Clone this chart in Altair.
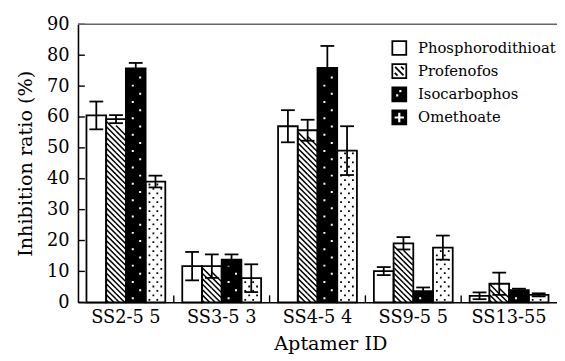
import altair as alt
import pandas as pd

# ---------------- data ----------------
groups = ["SS2-5 5", "SS3-5 3", "SS4-5 4", "SS9-5 5", "SS13-55"]
series = ["Phosphorodithioat", "Profenofos", "Isocarbophos", "Omethoate"]

phospho = [60.5, 11.7, 57.0, 10.1, 2.1]
phospho_err = [4.5, 4.6, 5.2, 1.3, 1.1]
profenofos = [59.3, 11.7, 55.7, 19.1, 6.0]
profenofos_err = [1.3, 3.8, 3.4, 2.0, 3.6]
isocarbophos = [75.7, 13.8, 75.9, 3.6, 3.9]
isocarbophos_err = [1.8, 1.7, 7.1, 1.2, 0.5]
omethoate = [39.1, 7.8, 49.1, 17.7, 2.4]
omethoate_err = [1.9, 4.5, 7.9, 3.9, 0.5]

y_ticks = [0, 10, 20, 30, 40, 50, 60, 70, 80, 90]

# ---------------- layout / style ----------------
W, H = 486, 282
YMAX = 90
ppu = H / YMAX
SERIF = "DejaVu Serif"

values = {series[0]: phospho, series[1]: profenofos, series[2]: isocarbophos, series[3]: omethoate}
errors = {series[0]: phospho_err, series[1]: profenofos_err, series[2]: isocarbophos_err, series[3]: omethoate_err}

rows = []
for s in series:
    for g, v, e in zip(groups, values[s], errors[s]):
        rows.append({"group": g, "series": s, "value": v, "lo": v - e, "hi": v + e})
df = pd.DataFrame(rows)

# ---------------- pattern decorations, derived from the bar values ----------------
def centers(v, start_px, period_px, top_margin_px):
    out = []
    c = start_px
    while c <= v * ppu - top_margin_px:
        out.append(c / ppu)
        c += period_px
    return out

def pattern_df(vals, s, start, period, margin):
    r = []
    for g, v in zip(groups, vals):
        for c in centers(v, start, period, margin):
            r.append({"group": g, "series": s, "y": c})
    return pd.DataFrame(r, columns=["group", "series", "y"])

hatch_df = pattern_df(profenofos, series[1], -14.0, 5.5, 5.3)
isoA_df = pattern_df(isocarbophos, series[2], 4.0, 16.6, 3.0)
isoB_df = pattern_df(isocarbophos, series[2], 12.3, 16.6, 3.0)
omE_df = pattern_df(omethoate, series[3], 2.5, 9.0, 2.0)
omO_df = pattern_df(omethoate, series[3], 7.0, 9.0, 2.0)

# symbol paths in pixel units (size=4 -> scale 1)
HATCH_PATH = "M-9.5,-4.75L0,4.75M0,-0.75L9.5,8.75"
ISO_A_PATH = "M-4,-1h2v2h-2Z"
ISO_B_PATH = "M3.5,-1h2v2h-2Z"
OM_E_PATH = "M-7,-0.9h1.8v1.8h-1.8ZM1,-0.9h1.8v1.8h-1.8Z"
OM_O_PATH = "M-3,-0.9h1.8v1.8h-1.8ZM5,-0.9h1.8v1.8h-1.8Z"

x_scale = alt.Scale(domain=groups, paddingInner=0, paddingOuter=0)
xo_scale = alt.Scale(domain=series, paddingInner=0, paddingOuter=0.43)
y_scale = alt.Scale(domain=[0, YMAX], nice=False, zero=True)

x_axis = alt.Axis(
    title="Aptamer ID", labelAngle=0, ticks=False, tickSize=0, domain=True,
    domainColor="black", domainWidth=1.6, labelFont=SERIF, labelFontSize=18,
    labelColor="black", labelPadding=7, titleFont=SERIF, titleFontSize=19.5,
    titleFontWeight="normal", titleColor="black", titlePadding=8, titleX=256,
    grid=False,
)
y_axis = alt.Axis(
    title="Inhibition ratio (%)", values=y_ticks, ticks=False, tickSize=0,
    domain=True, domainColor="black", domainWidth=1.6, labelFont=SERIF,
    labelFontSize=18, labelColor="black", labelPadding=9, titleFont=SERIF,
    titleFontSize=19.5, titleFontWeight="normal", titleColor="black",
    titlePadding=11, grid=False,
)

def X(**kw):
    return alt.X("group:N", scale=x_scale, axis=x_axis, **kw)

def Y(field):
    return alt.Y(field, scale=y_scale, axis=y_axis)

xo = alt.XOffset("series:N", scale=xo_scale)

base = alt.Chart(df)

bars_fill = base.mark_bar(strokeWidth=0).encode(
    x=X(), xOffset=xo, y=Y("value:Q"),
    fill=alt.condition(alt.datum.series == "Isocarbophos", alt.value("black"), alt.value("white")),
)

def pat_layer(data, path, color, filled, sw=0):
    kw = dict(shape=path, size=4, opacity=1, clip=True, filled=filled)
    if filled:
        kw.update(fill=color, strokeWidth=0)
    else:
        kw.update(stroke=color, strokeWidth=sw)
    return alt.Chart(data).mark_point(**kw).encode(x=X(), xOffset=xo, y=Y("y:Q"))

hatch = pat_layer(hatch_df, HATCH_PATH, "black", False, 1.5)
isoA = pat_layer(isoA_df, ISO_A_PATH, "white", True)
isoB = pat_layer(isoB_df, ISO_B_PATH, "white", True)
omE = pat_layer(omE_df, OM_E_PATH, "black", True)
omO = pat_layer(omO_df, OM_O_PATH, "black", True)

bars_outline = base.mark_bar(fill="transparent", stroke="black", strokeWidth=1.8).encode(
    x=X(), xOffset=xo, y=Y("value:Q")
)

err_rule = base.mark_rule(color="black", strokeWidth=1.8).encode(
    x=X(), xOffset=xo, y=Y("lo:Q"), y2="hi:Q"
)
cap_hi = base.mark_tick(color="black", size=14, thickness=1.8, opacity=1).encode(
    x=X(), xOffset=xo, y=Y("hi:Q")
)
cap_lo = base.mark_tick(color="black", size=14, thickness=1.8, opacity=1).encode(
    x=X(), xOffset=xo, y=Y("lo:Q")
)

ytick_rules = alt.Chart(pd.DataFrame({"v": y_ticks})).mark_rule(color="black", strokeWidth=1.4).encode(
    y=Y("v:Q"), x=alt.value(0), x2=alt.value(7)
)
xtick_rules = alt.Chart(pd.DataFrame({"group": groups[1:]})).mark_rule(color="black", strokeWidth=1.4).encode(
    x=X(bandPosition=0), y=alt.value(H), y2=alt.value(H - 7)
)
top_rule = alt.Chart(pd.DataFrame({"a": [0]})).mark_rule(color="#666666", strokeWidth=1.5).encode(
    y=alt.value(0), x=alt.value(0), x2=alt.value(W)
)

# legend symbols with pattern-like custom shapes
SQ = "M-1,-1H1V1H-1Z"
def hole(cx, cy, r):
    return "M%.2f,%.2fV%.2fH%.2fV%.2fZ" % (cx - r, cy - r, cy + r, cx + r, cy - r)
shape_paths = [
    SQ,
    SQ + "M-0.6,-0.6L0.6,0.6M0.25,-0.65L0.65,-0.25M-0.65,0.25L-0.25,0.65",
    SQ + hole(0.15, -0.45, 0.28) + hole(-0.3, 0.15, 0.28),
    SQ + "M-0.28,-0.8V-0.28H-0.8V0.28H-0.28V0.8H0.28V0.28H0.8V-0.28H0.28V-0.8Z",
]
leg = alt.Legend(
    title=None, orient="none", legendX=318, legendY=16, labelFont=SERIF,
    labelFontSize=15, labelColor="black", symbolSize=200, symbolStrokeWidth=1.8,
    rowPadding=1.5, labelOffset=11, padding=0,
    symbolOffset=0, symbolOpacity=1, labelLimit=400,
)
legend_layer = alt.Chart(pd.DataFrame({"series": series})).mark_point(
    filled=True, strokeWidth=1.8, size=200, clip=True, opacity=1
).encode(
    x=alt.value(-300), y=alt.value(-300),
    color=alt.Color("series:N", scale=alt.Scale(domain=series, range=["white", "white", "black", "black"]), legend=leg),
    shape=alt.Shape("series:N", scale=alt.Scale(domain=series, range=shape_paths), legend=leg),
    stroke=alt.Stroke("series:N", scale=alt.Scale(domain=series, range=["black", "black", "black", "black"]), legend=leg),
)

chart = alt.layer(
    bars_fill, hatch, isoA, isoB, omE, omO,
    bars_outline, err_rule, cap_hi, cap_lo, ytick_rules, xtick_rules, top_rule, legend_layer,
).properties(
    width=W, height=H,
    autosize=alt.AutoSizeParams(type="none"),
    padding={"left": 71, "top": 14, "right": 0, "bottom": 56},
    background="white",
).configure_view(stroke=None)

chart.save("out.html", embed_options={"renderer": "svg", "actions": False})
